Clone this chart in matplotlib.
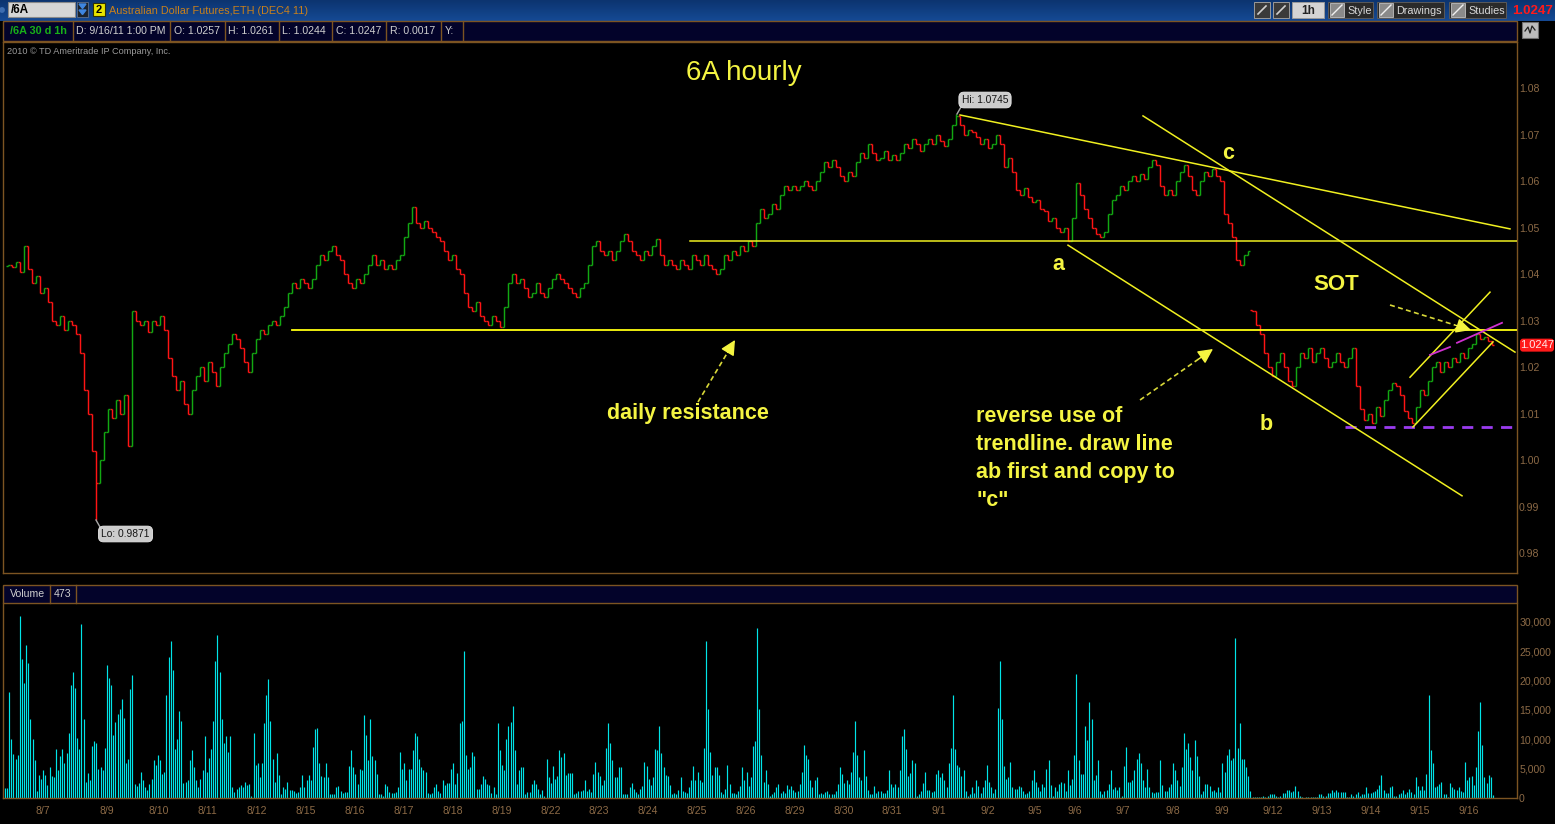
import numpy as np
import matplotlib
matplotlib.use("Agg")
import matplotlib.pyplot as plt
from matplotlib.patches import Rectangle, FancyBboxPatch, Polygon
from matplotlib.colors import LinearSegmentedColormap

plt.rcParams['font.family'] = ['Liberation Sans', 'DejaVu Sans']

# ====================== DATA ======================
# 2-hour closes of /6A, one value per bar
closes_aug07_12 = [1.0420, 1.0415, 1.0425, 1.0405, 1.0460, 1.0410, 1.0380, 1.0395, 1.0360, 1.0370,
                   1.0340, 1.0300, 1.0290, 1.0310, 1.0280, 1.0300, 1.0290, 1.0270, 1.0230, 1.0150,
                   1.0100, 1.0020, 0.9950, 1.0000, 1.0060, 1.0110, 1.0090, 1.0130, 1.0100, 1.0140,
                   1.0030, 1.0320, 1.0300, 1.0290, 1.0300, 1.0275, 1.0300, 1.0290, 1.0310, 1.0280,
                   1.0220, 1.0180, 1.0150, 1.0170, 1.0120, 1.0100, 1.0150, 1.0180, 1.0200, 1.0170,
                   1.0210, 1.0190, 1.0160, 1.0200, 1.0230, 1.0250, 1.0270, 1.0260, 1.0240, 1.0210,
                   1.0190, 1.0230, 1.0260, 1.0280, 1.0270, 1.0290, 1.0300, 1.0290, 1.0310, 1.0330,
                   1.0360, 1.0380, 1.0370, 1.0390, 1.0380]
closes_aug15_19 = [1.0370, 1.0390, 1.0420, 1.0440, 1.0430, 1.0450, 1.0460, 1.0440, 1.0430, 1.0400,
                   1.0380, 1.0370, 1.0390, 1.0380, 1.0400, 1.0420, 1.0440, 1.0420, 1.0430, 1.0410,
                   1.0420, 1.0410, 1.0430, 1.0440, 1.0480, 1.0510, 1.0545, 1.0510, 1.0500, 1.0515,
                   1.0500, 1.0490, 1.0480, 1.0470, 1.0450, 1.0430, 1.0440, 1.0410, 1.0400, 1.0360,
                   1.0330, 1.0320, 1.0340, 1.0310, 1.0300, 1.0290, 1.0310, 1.0300, 1.0285, 1.0330,
                   1.0380, 1.0400, 1.0380, 1.0390, 1.0370, 1.0350, 1.0360, 1.0380, 1.0360, 1.0350,
                   1.0370]
closes_aug22_26 = [1.0390, 1.0400, 1.0390, 1.0380, 1.0370, 1.0360, 1.0350, 1.0370, 1.0380, 1.0420,
                   1.0460, 1.0470, 1.0450, 1.0440, 1.0450, 1.0430, 1.0450, 1.0470, 1.0485, 1.0470,
                   1.0450, 1.0440, 1.0430, 1.0450, 1.0440, 1.0460, 1.0475, 1.0440, 1.0420, 1.0430,
                   1.0420, 1.0410, 1.0430, 1.0420, 1.0410, 1.0440, 1.0430, 1.0420, 1.0440, 1.0420,
                   1.0410, 1.0400, 1.0410, 1.0440, 1.0430, 1.0450, 1.0440, 1.0460, 1.0450, 1.0470,
                   1.0460, 1.0510, 1.0540, 1.0520, 1.0530, 1.0550, 1.0540, 1.0570, 1.0590, 1.0580,
                   1.0590]
closes_aug29_sep02 = [1.0580, 1.0590, 1.0600, 1.0590, 1.0580, 1.0600, 1.0620, 1.0640, 1.0630, 1.0645,
                      1.0630, 1.0610, 1.0600, 1.0620, 1.0610, 1.0640, 1.0660, 1.0650, 1.0680, 1.0660,
                      1.0645, 1.0650, 1.0665, 1.0645, 1.0655, 1.0645, 1.0660, 1.0680, 1.0670, 1.0690,
                      1.0680, 1.0665, 1.0680, 1.0690, 1.0680, 1.0700, 1.0685, 1.0675, 1.0690, 1.0720,
                      1.0740, 1.0720, 1.0700, 1.0710, 1.0705, 1.0695, 1.0680, 1.0690, 1.0670, 1.0680,
                      1.0700, 1.0680, 1.0630, 1.0650, 1.0620, 1.0580, 1.0570, 1.0585, 1.0565, 1.0555]
closes_sep05_09 = [1.0560, 1.0540, 1.0535, 1.0515, 1.0520, 1.0500, 1.0490, 1.0500, 1.0470, 1.0520,
                   1.0595, 1.0570, 1.0540, 1.0520, 1.0500, 1.0485, 1.0480, 1.0490, 1.0530, 1.0560,
                   1.0570, 1.0590, 1.0580, 1.0600, 1.0610, 1.0600, 1.0615, 1.0605, 1.0630, 1.0645,
                   1.0635, 1.0590, 1.0570, 1.0580, 1.0570, 1.0600, 1.0620, 1.0635, 1.0610, 1.0580,
                   1.0570, 1.0600, 1.0620, 1.0610, 1.0625, 1.0610, 1.0600, 1.0530, 1.0510, 1.0480,
                   1.0430, 1.0420, 1.0440, 1.0450]
closes_sep12_16 = [1.0320, 1.0290, 1.0270, 1.0230, 1.0200, 1.0180, 1.0210, 1.0230, 1.0200, 1.0170,
                   1.0160, 1.0200, 1.0230, 1.0220, 1.0240, 1.0210, 1.0230, 1.0240, 1.0220, 1.0200,
                   1.0210, 1.0230, 1.0210, 1.0200, 1.0220, 1.0240, 1.0160, 1.0110, 1.0085, 1.0100,
                   1.0080, 1.0115, 1.0095, 1.0130, 1.0150, 1.0165, 1.0160, 1.0140, 1.0105, 1.0090,
                   1.0080, 1.0115, 1.0150, 1.0140, 1.0170, 1.0200, 1.0210, 1.0190, 1.0210, 1.0200,
                   1.0220, 1.0210, 1.0230, 1.0220, 1.0240, 1.0250, 1.0270, 1.0260, 1.0265, 1.0255,
                   1.0247]
first_open_aug07 = 1.0418
first_open_sep12 = 1.0322
session_high, session_high_bar = 1.0745, 237
session_low, session_low_bar = 0.9871, 22

# hourly volume, thousands of contracts
vol_aug07_19 = [1.7, 1.7, 18, 10, 7.5, 6.6, 7.4, 31, 23.7, 19.6, 26, 23, 13.5, 10, 6.5, 1.2, 4, 3.3, 4.8, 4,
                2.3, 5.3, 3.8, 3.6, 8.4, 4.7, 7.2, 8.4, 6, 7.6, 11, 19.3, 21.5, 18.8, 10.3, 8.4, 29.7, 13.4,
                2.8, 4.3, 3.1, 8.9, 9.8, 9.4, 5, 5.2, 4.7, 8.6, 22.6, 20.5, 19.3, 10.8, 13, 14.4, 15.2, 16.8,
                13.7, 6, 6.7, 18.6, 20.9, 2.4, 2.1, 2.6, 4.5, 3.1, 1.9, 1.4, 2.4, 3.3, 6.4, 5.7, 7.4, 6.5,
                4.1, 4.5, 17.6, 24, 26.8, 21.9, 8.4, 10, 14.9, 13.2, 2.6, 2.8, 3.1, 6.4, 8.2, 5.2, 3, 1.8,
                3.3, 4.8, 10.6, 4.5, 6.9, 8.4, 13.2, 23.4, 27.8, 21.4, 13.5, 9.4, 10.5, 7.9, 10.5, 1.8, 1.1,
                1.6, 1.9, 2.3, 1.8, 2.8, 2.3, 2.4, 0.4, 11, 5.7, 5.9, 3.5, 5.9, 12.8, 17.6, 20.2, 13.2, 6.7,
                2.8, 7.6, 4, 0.6, 1.8, 1.6, 2.8, 1.4, 1.4, 1.2, 0.9, 1.1, 1.9, 4, 1.9, 3, 4, 3, 8.7, 11.8,
                12, 6, 3.8, 3.5, 5.9, 3.6, 0.6, 0.7, 0.7, 1.8, 2.1, 1.2, 0.9, 1.1, 1.1, 5.5, 8.1, 5.2, 4.1,
                2.4, 5, 4.8, 14.2, 10.8, 6.4, 13.5, 7.2, 6.5, 4.1, 0.6, 0.6, 0.4, 2.4, 2.1, 1.1, 0.9, 0.9,
                1.1, 1.8, 7.9, 5, 5.9, 3.1, 5, 5, 8.2, 11.1, 10.6, 6.7, 5.3, 4.7, 4.5, 0.9, 0.6, 0.9, 1.8,
                2.4, 1.2, 0.9, 3.1, 2.3, 2.6, 2.6, 5, 5.9, 2.4, 4.3, 12.7, 13.2, 25.1, 7.4, 5, 5.2, 7.9,
                7.2, 1.6, 1.6, 2.4, 3.8, 3.3, 2.4, 2.3, 0.9, 1.8, 0.6, 12.7, 8.2, 5.7, 4.7, 10.1, 12.3, 13,
                15.6, 8.1, 2.4, 4.8]
vol_aug22_sep05 = [5.2, 5.3, 0.6, 1.1, 1.1, 2.4, 3, 2.4, 1.6, 0.7, 1.4, 0.4, 6.7, 3.6, 2.6, 5.5, 3.3, 3.8,
                   8.2, 7, 7.6, 4, 4.3, 4.3, 4.3, 0.7, 0.9, 1.2, 1.2, 1.4, 3.1, 1.2, 1.6, 1.1, 4.1, 6.2, 4.5,
                   3.8, 2.3, 3.1, 8.6, 12.8, 9.3, 6.5, 3.6, 3.6, 5.3, 5.3, 0.7, 0.6, 0.6, 1.8, 2.6, 1.6, 1.1,
                   0.6, 1.6, 2.1, 6.2, 5.5, 3.3, 2.3, 3.5, 8.4, 8.1, 12.2, 7.6, 5.2, 4, 3.8, 2.3, 0.6, 0.9,
                   0.6, 1.4, 3.5, 1.2, 1.1, 0.9, 1.8, 3.1, 5.5, 3.1, 4.5, 3.1, 2.8, 8.6, 26.8, 15.2, 7.9, 4,
                   5.2, 5.3, 4, 1.1, 0.7, 1.6, 5.7, 2.4, 0.9, 0.9, 0.7, 1.2, 2.1, 5.3, 3, 4.5, 2.1, 3.6, 8.9,
                   9.8, 29, 15.1, 7.4, 2.8, 4.7, 2.4, 0.4, 0.7, 1.1, 1.8, 2.4, 0.9, 1.2, 0.9, 2.3, 1.6, 2.1,
                   1.4, 1.1, 1.2, 2.4, 4.5, 9.1, 7.4, 6.7, 3.1, 1.8, 3, 3.5, 0.6, 0.9, 0.6, 1.1, 1.2, 0.7,
                   0.6, 0.6, 1.2, 2.4, 5.2, 4.1, 2.6, 3, 2.4, 4.5, 7.9, 13.2, 7.4, 3.5, 3, 8.2, 3.8, 1.4, 0.7,
                   0.6, 2.1, 0.9, 1.2, 1.2, 0.9, 0.9, 1.4, 4.8, 2.4, 1.9, 2.4, 1.9, 4.8, 10.5, 11.8, 8.4, 3.8,
                   4.3, 6.5, 5.9, 0.4, 0.6, 1.2, 2.6, 4.5, 1.4, 1.4, 1.1, 1.2, 4.1, 4.8, 3.5, 4.3, 3.1, 1.8,
                   5.9, 8.6, 17.6, 8.4, 5.7, 5.2, 3.8, 4.7, 1.2, 0.4, 0.7, 1.8, 0.9, 3, 2.1, 0.9, 1.8, 3, 5.7,
                   2.8, 1.9, 0.9, 1.6, 15.4, 23.4, 13.4, 5.5, 3.3, 3.5, 6.2, 1.9, 1.6, 1.6, 2.1, 1.9, 1.2,
                   0.7, 0.9, 1.2, 3.1, 4.8, 2.8, 1.8]
vol_sep06_16 = [1.2, 2.4, 1.8, 5, 6.4, 2.3, 0.4, 1.9, 1.2, 2.4, 2.8, 2.6, 1.2, 4.8, 2.3, 3.3, 7.4, 21.2, 6.4,
                4.1, 4.1, 12.3, 9.9, 16.3, 13.5, 3, 4, 6.4, 1.2, 0.7, 1.2, 1.4, 2.4, 4.7, 1.6, 1.8, 1.4, 1.8,
                0.4, 5.5, 8.7, 2.8, 2.8, 3, 4.8, 6.7, 7.7, 6, 3, 1.8, 5, 1.8, 1.1, 0.9, 1.1, 1.1, 6.4, 2.3,
                1.2, 1.2, 1.8, 2.4, 5.9, 4.8, 3, 2.1, 5.2, 11, 8.4, 9.3, 7, 4.8, 9.9, 7.2, 3.8, 0.7, 1.2,
                2.4, 2.4, 2.1, 1.2, 1.4, 1.1, 1.9, 1.1, 5.9, 4.5, 7.4, 8.4, 6.5, 6.9, 27.2, 8.6, 12.8, 6.7,
                6.7, 5.2, 3.8, 1.2, 0.2, 0.2, 0.2, 0.2, 0.2, 0.4, 0.2, 0.4, 0.7, 0.6, 0.7, 0.4, 0.2, 0.4,
                0.9, 0.9, 1.4, 1.4, 1.1, 1.2, 2.1, 1.2, 0.4, 0.2, 0, 0.2, 0.2, 0.2, 0.2, 0.2, 0.2, 0.7, 0.7,
                0.4, 0.4, 0.9, 0.9, 1.4, 1.1, 1.4, 1.1, 1.1, 1.1, 1.1, 0.2, 0.2, 0.6, 0.4, 0.6, 1.1, 0.4,
                0.7, 0.6, 1.9, 0.9, 0.9, 1.1, 1.2, 1.6, 2.3, 4, 1.4, 0.9, 0.9, 1.9, 2.1, 0.4, 0.4, 0.6, 0.9,
                1.4, 0.6, 1.1, 1.6, 1.1, 0.7, 3.5, 2.1, 1.4, 2.1, 1.4, 4.1, 17.6, 8.1, 6, 1.8, 2.1, 2.4,
                2.8, 0.7, 0.6, 0.2, 2.6, 1.8, 1.6, 1.4, 1.8, 1.2, 1.1, 6.2, 3.1, 3.6, 3.8, 2.3, 5.2, 11.5,
                16.4, 9.1, 3.5, 2.6, 4, 3.5, 0.473]
last_volume = 473

price_ticks = [0.98, 0.99, 1.00, 1.01, 1.02, 1.03, 1.04, 1.05, 1.06, 1.07, 1.08]
volume_ticks = [0, 5000, 10000, 15000, 20000, 25000, 30000]
date_labels = ['8/7', '8/9', '8/10', '8/11', '8/12', '8/15', '8/16', '8/17', '8/18', '8/19',
               '8/22', '8/23', '8/24', '8/25', '8/26', '8/29', '8/30', '8/31', '9/1', '9/2',
               '9/5', '9/6', '9/7', '9/8', '9/9', '9/12', '9/13', '9/14', '9/15', '9/16']

daily_resistance = 1.0280
level_a = 1.0470
sot_low = 1.0070
last_close = 1.0247
quote = [('D:', '9/16/11 1:00 PM'), ('O:', '1.0257'), ('H:', '1.0261'), ('L:', '1.0244'),
         ('C:', '1.0247'), ('R:', '0.0017'), ('Y:', '')]

# hand-drawn trend lines: (bar0, price0, bar1, price1)
trend_yellow = [(238.0, 1.0742, 375.5, 1.0497),
                (283.75, 1.0740, 376.75, 1.0232),
                (265.0, 1.0462, 363.5, 0.9923),
                (351.25, 1.0071, 371.25, 1.0254),
                (350.5, 1.0178, 370.5, 1.0361)]
trend_magenta = [(355.5, 1.0226, 360.5, 1.0243),
                 (362.25, 1.0252, 373.5, 1.0295)]

# ====================== LAYOUT ======================
W, H = 1555, 824
BROWN = '#7c5422'
LABEL = '#8c6a46'
YEL = '#f4f442'
NAVY = '#03032a'

fig = plt.figure(figsize=(W / 100, H / 100), dpi=100, facecolor='black')


def frect(x0, y0, x1, y1):
    return [x0 / W, 1 - y1 / H, (x1 - x0) / W, (y1 - y0) / H]


def px2x(px):
    return (np.asarray(px, dtype=float) - 8.0) / 4.0


def py2p(py):
    return 1.0 + (460.0 - py) / 4650.0


# ---- background chrome (pixel coordinates, y down)
bg = fig.add_axes([0, 0, 1, 1], zorder=0)
bg.set_xlim(0, W)
bg.set_ylim(H, 0)
bg.axis('off')
bg.set_facecolor('black')

grad = LinearSegmentedColormap.from_list('g', ['#0c3470', '#154a94'])
bg.imshow(np.linspace(0, 1, 20)[:, None], extent=(0, W, 21, 0), aspect='auto', cmap=grad, zorder=0)
bg.add_patch(plt.Circle((2, 10), 2.2, color='#3d6db0', zorder=1))
bg.add_patch(Rectangle((8, 2), 67, 15, facecolor='#d6d6d6', edgecolor='#8a8a8a', lw=0.8, zorder=1))
bg.text(11, 10, '/6A', color='black', fontsize=8.5, fontweight='bold', va='center', zorder=2)
bg.add_patch(Rectangle((77, 2), 11, 15, facecolor='#1c232c', edgecolor='#60708a', lw=0.6, zorder=1))
bg.add_patch(Polygon([[79, 4], [86, 4], [82.5, 8.5]], color='#3f86e0', zorder=2))
bg.add_patch(Polygon([[79, 10], [86, 10], [82.5, 14.5]], color='#3f86e0', zorder=2))
bg.add_patch(Rectangle((93, 3), 12, 13, facecolor='#e8e400', edgecolor='#303000', lw=0.8, zorder=1))
bg.text(99, 10, '2', color='black', fontsize=8, fontweight='bold', ha='center', va='center', zorder=2)
bg.text(109, 10.5, 'Australian Dollar Futures,ETH (DEC4 11)', color='#c8801c', fontsize=7.8,
        va='center', zorder=2)

# right-hand toolbar buttons
for x0, x1 in [(1254, 1270), (1273, 1289)]:
    bg.add_patch(Rectangle((x0, 2), x1 - x0, 16, facecolor='#3a3a3a', edgecolor='#9a9a9a', lw=0.7, zorder=1))
    bg.plot([x0 + 4, x1 - 4], [14, 6], color='#d0d0d0', lw=1.2, zorder=2)
bg.add_patch(Rectangle((1292, 2), 32, 16, facecolor='#d4d4d4', edgecolor='#9a9a9a', lw=0.7, zorder=1))
bg.text(1308, 10.5, '1h', color='#222222', fontsize=8.5, fontweight='bold', ha='center', va='center', zorder=2)
for x0, x1, label in [(1328, 1373, 'Style'), (1377, 1444, 'Drawings'), (1449, 1506, 'Studies')]:
    bg.add_patch(Rectangle((x0, 2), x1 - x0, 16, facecolor='#2a2a2a', edgecolor='#5a5a5a', lw=0.7, zorder=1))
    bg.add_patch(Rectangle((x0 + 2, 3), 14, 14, facecolor='#8a8a8a', edgecolor='#c0c0c0', lw=0.6, zorder=2))
    bg.plot([x0 + 4, x0 + 14], [15, 5], color='#f0f0f0', lw=1.0, zorder=3)
    bg.text(x0 + 19, 10.5, label, color='#d8d8d8', fontsize=7.8, va='center', zorder=2)
bg.text(1553, 10.5, '%.4f' % last_close, color='#ff1a1a', fontsize=9.5, fontweight='bold',
        ha='right', va='center', zorder=2)

# quote header row
bg.add_patch(Rectangle((3, 21), 1514, 20, facecolor=NAVY, edgecolor=BROWN, lw=1, zorder=1))
bg.text(10, 31, '/6A 30 d 1h', color='#18b018', fontsize=7.8, fontweight='bold', va='center', zorder=2)
div_px = [73, 170, 225, 279, 332, 386, 441, 463]
for xd in div_px:
    bg.plot([xd, xd], [21, 41], color=BROWN, lw=1, zorder=2)
for (k, v), xd in zip(quote, div_px[:-1]):
    bg.text(xd + 3.5, 31, (k + ' ' + v).strip(), color='#cfcfcf', fontsize=7.6, va='center', zorder=2)
bg.add_patch(Rectangle((1522, 22), 16, 16, facecolor='#bcbcbc', edgecolor='#707070', lw=0.8, zorder=1))
bg.plot([1525, 1528, 1530, 1532, 1535], [31, 27, 33, 26, 30], color='#202020', lw=0.9, zorder=2)
bg.text(7, 51.5, '2010 \u00a9 TD Ameritrade IP Company, Inc.', color='#9a9a9a', fontsize=6.6,
        va='center', zorder=2)

# volume header row
bg.add_patch(Rectangle((3, 585), 1514, 18, facecolor=NAVY, edgecolor=BROWN, lw=1, zorder=1))
for xd in [50, 76]:
    bg.plot([xd, xd], [585, 603], color=BROWN, lw=1, zorder=2)
bg.text(10, 594, 'Volume', color='#cfcfcf', fontsize=7.6, va='center', zorder=2)
bg.text(54, 594, str(last_volume), color='#cfcfcf', fontsize=7.6, va='center', zorder=2)

# ====================== PRICE PANEL ======================
ax = fig.add_axes(frect(3, 42, 1517, 573), zorder=2)
ax.set_facecolor('none')
old = np.concatenate([closes_aug07_12, closes_aug15_19, closes_aug22_26, closes_aug29_sep02, closes_sep05_09])
new = np.array(closes_sep12_16)
closes = np.r_[old, new]
opens = np.r_[first_open_aug07, old[:-1], first_open_sep12, new[:-1]]
highs = np.maximum(opens, closes)
lows = np.minimum(opens, closes)
highs[session_high_bar] = session_high
lows[session_low_bar] = session_low
xb = np.arange(len(closes))
cols = np.where(closes > opens + 1e-9, '#12a812', np.where(closes < opens - 1e-9, '#ff1414', '#c8c8c8'))
ax.vlines(xb, lows, highs, colors=cols, lw=1.05)
ax.hlines(opens, xb - 0.42, xb, colors=cols, lw=1.0)
ax.hlines(closes, xb, xb + 0.42, colors=cols, lw=1.0)

xl = (float(px2x(3)), float(px2x(1517)))
ax.set_xlim(*xl)
ax.set_ylim(py2p(573), py2p(42))
ax.set_xticks([])
ax.yaxis.tick_right()
ax.set_yticks(price_ticks)
ax.set_yticklabels(['%.2f' % t for t in price_ticks])
ax.tick_params(axis='y', length=0, pad=1.5, labelcolor=LABEL, labelsize=7.6)
for s in ax.spines.values():
    s.set_color(BROWN)
    s.set_linewidth(1)

# horizontal levels
ax.plot([px2x(292), xl[1]], [daily_resistance] * 2, color='#ffff10', lw=1.3, zorder=4)
ax.plot([px2x(690), xl[1]], [level_a] * 2, color='#f0f020', lw=1.1, zorder=4)
ax.plot([px2x(1345), px2x(1512)], [sot_low] * 2, color='#9a3cf0', lw=2.0, dashes=(4, 3), zorder=4)
for b0, p0, b1, p1 in trend_yellow:
    ax.plot([b0, b1], [p0, p1], color='#f0f020', lw=1.1, zorder=4)
for b0, p0, b1, p1 in trend_magenta:
    ax.plot([b0, b1], [p0, p1], color='#d030d0', lw=1.3, zorder=4)

# ====================== VOLUME PANEL ======================
vax = fig.add_axes(frect(3, 603, 1517, 798), zorder=2)
vax.set_facecolor('none')
for vals, p0, p1 in [(vol_aug07_19, 5, 519), (vol_aug22_sep05, 521, 1038), (vol_sep06_16, 1040, 1493)]:
    xv = px2x(np.linspace(p0, p1, len(vals)))
    vax.vlines(xv, 0, np.asarray(vals) * 1000.0, colors='#00e4e8', lw=0.85)
vax.set_xlim(*xl)
vax.set_ylim(0, (798 - 603) / 5.867 * 1000)
vax.yaxis.tick_right()
vax.set_yticks(volume_ticks)
vax.set_yticklabels(['{:,}'.format(t) for t in volume_ticks])
date_px = [43, 107, 159, 207, 257, 306, 355, 404, 453, 502, 551, 599, 648, 697, 746, 795, 844, 892,
           939, 988, 1035, 1075, 1123, 1173, 1222, 1273, 1322, 1371, 1420, 1469]
vax.set_xticks(px2x(date_px))
vax.set_xticklabels(date_labels)
vax.tick_params(axis='y', length=0, pad=1.5, labelcolor=LABEL, labelsize=7.6)
vax.tick_params(axis='x', length=0, pad=6, labelcolor=LABEL, labelsize=7.6)
for k, s in vax.spines.items():
    s.set_color(BROWN)
    s.set_linewidth(1)
vax.spines['top'].set_visible(False)

# ====================== ANNOTATION OVERLAY ======================
top = fig.add_axes([0, 0, 1, 1], zorder=10)
top.set_xlim(0, W)
top.set_ylim(H, 0)
top.axis('off')
top.patch.set_alpha(0)

top.text(744, 73, '6A hourly', color=YEL, fontsize=20, ha='center', va='center')
top.text(688, 413, 'daily resistance', color=YEL, fontsize=15.5, fontweight='bold', ha='center', va='center')
for k, line in enumerate(['reverse use of', 'trendline. draw line', 'ab first and copy to', '"c"']):
    top.text(976, 416 + 28 * k, line, color=YEL, fontsize=15.5, fontweight='bold', ha='left', va='center')
top.text(1058, 264, 'a', color=YEL, fontsize=15.5, fontweight='bold', ha='center', va='center')
top.text(1266, 424, 'b', color=YEL, fontsize=15.5, fontweight='bold', ha='center', va='center')
top.text(1228, 153, 'c', color=YEL, fontsize=15.5, fontweight='bold', ha='center', va='center')
top.text(1336, 284, 'SOT', color=YEL, fontsize=16, fontweight='bold', ha='center', va='center')

# dashed arrows
for (x0, y0), (x1, y1) in [((698, 402), (735, 340)), ((1140, 400), (1213, 349)), ((1390, 305), (1471, 330))]:
    f = 0.80
    xm, ym = x0 + (x1 - x0) * f, y0 + (y1 - y0) * f
    top.plot([x0, xm], [y0, ym], color='#d8d838', lw=1.2, dashes=(3, 2))
    top.annotate('', xy=(x1, y1), xytext=(xm, ym),
                 arrowprops=dict(arrowstyle='-|>,head_length=0.9,head_width=0.45', color='#f4f440',
                                 lw=1.0, shrinkA=0, shrinkB=0))

# Hi / Lo bubbles
for (bx, by, txt), (lx0, ly0, lx1, ly1) in [((985, 100, 'Hi: %.4f' % session_high), (957, 114, 961, 107)),
                                          ((125.5, 534, 'Lo: %.4f' % session_low), (96, 520, 100, 527))]:
    top.plot([lx0, lx1], [ly0, ly1], color='#a8a8a8', lw=1)
    top.text(bx, by, txt, color='#151515', fontsize=7.4, ha='center', va='center',
             bbox=dict(boxstyle='round,pad=0.28,rounding_size=0.5', facecolor='#cccccc', edgecolor='#e8e8e8', lw=0.6))

# last price tag on the price axis
tag_y = 460 - (last_close - 1.0) * 4650
top.add_patch(FancyBboxPatch((1520, tag_y - 6.5), 34, 13, boxstyle='round,pad=0,rounding_size=3',
                             facecolor='#ff1a1a', edgecolor='none'))
top.text(1537, tag_y, '%.4f' % last_close, color='#ffe8e8', fontsize=8, ha='center', va='center')

fig.savefig('out.png', dpi=100, facecolor='black')
